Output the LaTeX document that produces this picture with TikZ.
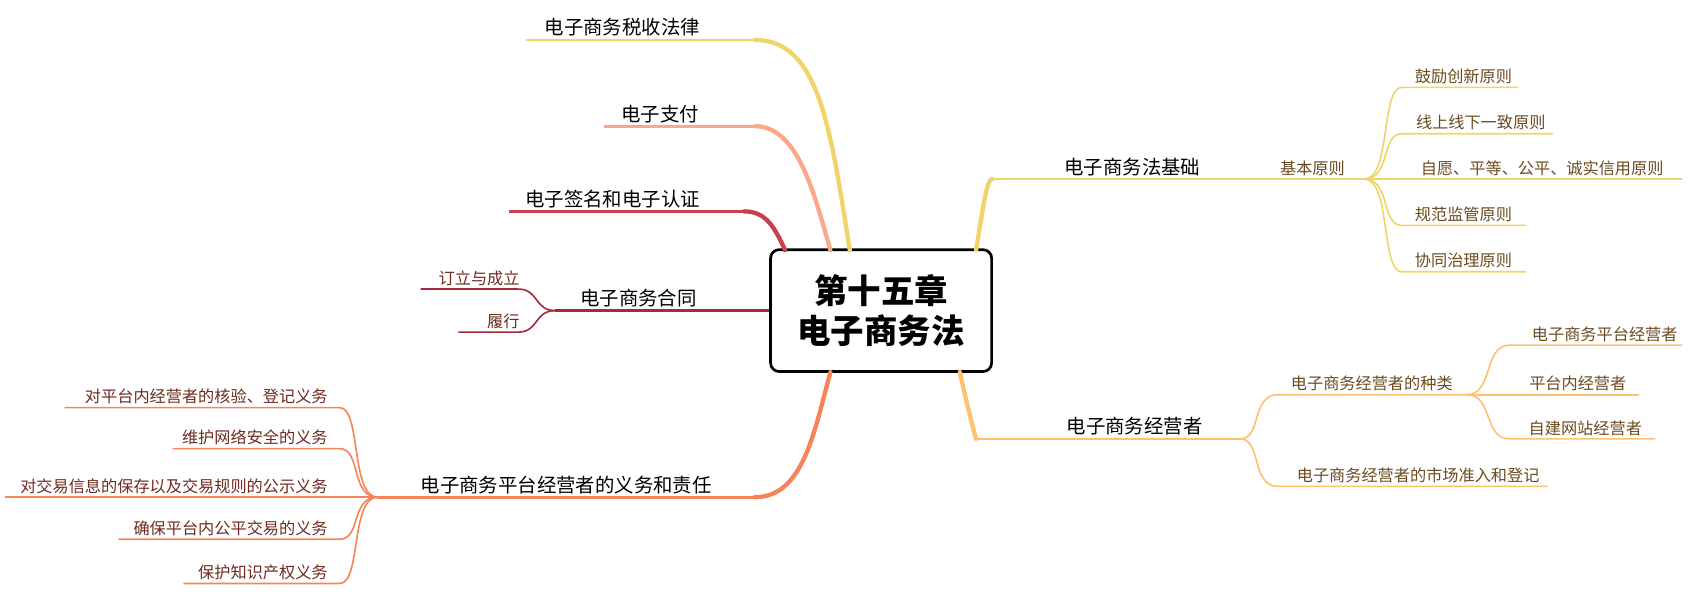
\documentclass[tikz,border=0pt]{standalone}
\usepackage{fontspec}
\setmainfont{Noto Sans CJK SC}
\definecolor{cy}{HTML}{F0D46A}
\definecolor{cs}{HTML}{F9A98A}
\definecolor{cr}{HTML}{C8414E}
\definecolor{cd}{HTML}{A52A3F}
\definecolor{co}{HTML}{F5845A}
\definecolor{cl}{HTML}{FFC070}
\definecolor{tb}{HTML}{6B4A20}
\definecolor{tr}{HTML}{6E2A20}
\tikzset{
 mt/.style={font=\fontsize{18}{20}\selectfont, anchor=south, inner sep=3pt},
 st/.style={font=\fontsize{15}{17}\selectfont, text=tb, anchor=south, inner sep=3pt},
 srt/.style={font=\fontsize{15}{17}\selectfont, text=tr, anchor=south east, inner sep=3pt},
 thick1/.style={line width=4pt, line cap=round},
 thin1/.style={line width=1.5pt},
}
\begin{document}
\begin{tikzpicture}[x=1pt,y=-1pt]
\useasboundingbox (0,0) rectangle (1568,552);
% center
\node[draw=black, line width=2.5pt, rounded corners=8pt, minimum width=205pt, minimum height=113pt, align=center, font=\fontsize{31}{38}\selectfont\bfseries, fill=white] (c) at (817,288) {第十五章\\电子商务法};
% left top branches
\coordinate (a1) at (488,37); \coordinate (a2) at (700,37);
\node[mt] at (577,37) {电子商务税收法律};
\draw[cy, line width=2.5pt] (a1) -- (a2);
\draw[cy, thick1] (a2) .. controls (760,37) and (770,120) .. (788,232);
\coordinate (b1) at (560,117); \coordinate (b2) at (700,117);
\node[mt] at (612,117) {电子支付};
\draw[cs, line width=2.5pt] (b1) -- (b2);
\draw[cs, thick1] (b2) .. controls (740,117) and (755,180) .. (770,232);
\coordinate (d1) at (472,196); \coordinate (d2) at (690,196);
\node[mt] at (568,196) {电子签名和电子认证};
\draw[cr, line width=2.5pt] (d1) -- (d2);
\draw[cr, thick1] (d2) .. controls (710,196) and (718,210) .. (728,232);
\coordinate (e1) at (515,288); \coordinate (e2) at (700,288);
\node[mt] at (592,288) {电子商务合同};
\draw[cd, line width=2.5pt] (e1) -- (e2) -- (c.west);
\coordinate (e3) at (390,268); \coordinate (e4) at (425,308);
\node[srt] at (485,268) {订立与成立};
\node[srt] at (485,308) {履行};
\draw[cd, thin1] (e3) -- (480,268) .. controls (500,268) and (495,288) .. (e1);
\draw[cd, thin1] (e4) -- (480,308) .. controls (500,308) and (495,288) .. (e1);
% platform
\coordinate (p1) at (350,461); \coordinate (p2) at (700,461);
\node[mt] at (525,461) {电子商务平台经营者的义务和责任};
\draw[co, line width=2.5pt] (p1) -- (p2);
\draw[co, thick1] (p2) .. controls (745,461) and (755,400) .. (770,345);
\foreach \y/\x/\t in {378/60/对平台内经营者的核验、登记义务, 416/160/维护网络安全的义务, 461/5/对交易信息的保存以及交易规则的公示义务, 500/110/确保平台内公平交易的义务, 541/170/保护知识产权义务}{
 \node[srt] at (307,\y) {\t};
 \draw[co, thin1] (\x,\y) -- (315,\y) .. controls (335,\y) and (325,461) .. (p1);
}
% right: basis
\coordinate (f1) at (920,166); \coordinate (f2) at (1130,166); \coordinate (f3) at (1265,166);
\node[mt] at (1050,166) {电子商务法基础};
\draw[cy, thick1] (905,232) .. controls (912,190) and (915,166) .. (f1);
\draw[cy, line width=2.5pt] (f1) -- (f2);
\draw[cy, line width=1.8pt] (f2) -- (f3);
\node[st] at (1217,166) {基本原则};
\foreach \y/\x/\t/\tx in {81/1408/鼓励创新原则/1357, 124/1440/线上线下一致原则/1373, 166/1560/自愿、平等、公平、诚实信用原则/1430, 209/1415/规范监管原则/1357, 252/1415/协同治理原则/1357}{
 \node[st] at (\tx,\y) {\t};
 \draw[cy, thin1] (f3) .. controls (1290,166) and (1280,\y) .. (1300,\y) -- (\x,\y);
}
% right: operators
\coordinate (g1) at (905,407); \coordinate (g2) at (1150,407);
\node[mt] at (1052,407) {电子商务经营者};
\draw[cl, thick1] (890,345) .. controls (900,390) and (905,407) .. (g1);
\draw[cl, line width=2.5pt] (g1) -- (g2);
\coordinate (h1) at (1360,366);
\node[st] at (1272,366) {电子商务经营者的种类};
\node[st] at (1315,451) {电子商务经营者的市场准入和登记};
\draw[cl, thin1] (g2) .. controls (1170,407) and (1160,366) .. (1185,366) -- (h1);
\draw[cl, thin1] (g2) .. controls (1170,407) and (1160,451) .. (1185,451) -- (1435,451);
\foreach \y/\x/\t/\tx in {320/1560/电子商务平台经营者/1488, 366/1520/平台内经营者/1463, 407/1535/自建网站经营者/1470}{
 \node[st] at (\tx,\y) {\t};
 \draw[cl, thin1] (h1) .. controls (1385,366) and (1375,\y) .. (1400,\y) -- (\x,\y);
}
\end{tikzpicture}
\end{document}
